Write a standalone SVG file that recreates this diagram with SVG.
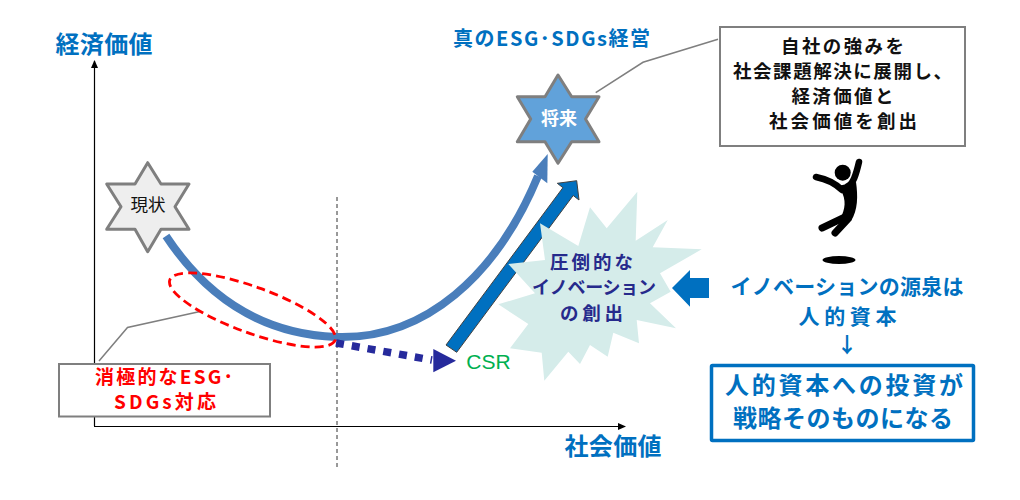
<svg xmlns="http://www.w3.org/2000/svg" width="1020" height="500" viewBox="0 0 1020 500">
<style>
text{font-family:"Noto Sans CJK JP","Liberation Sans",sans-serif;text-anchor:middle;font-weight:700}
.b{fill:#0070c0}
.n{fill:#262a8c}
.r{fill:#ff0000}
.k{fill:#111111}
.callout{fill:#fff;stroke:#7f7f7f;stroke-width:2}
.lead{fill:none;stroke:#7f7f7f;stroke-width:1.5}
</style>
<defs>
<marker id="ax" markerWidth="9" markerHeight="9" refX="7" refY="3.5" orient="auto" markerUnits="userSpaceOnUse"><path d="M0 0L8 3.5L0 7Z" fill="#000"/></marker>
</defs>
<g id="connectors">
<path d="M94.500 426V61" fill="none" stroke="#000" stroke-width="1.200" marker-end="url(#ax)"/>
<path d="M94 426.500H625" fill="none" stroke="#000" stroke-width="1.200" marker-end="url(#ax)"/>
<path d="M337 197V467" fill="none" stroke="#333" stroke-width="1" stroke-dasharray="4 3"/>
<path class="lead" d="M99 361L127.500 327.500L200 311.500"/>
<path class="lead" d="M595.700 92.700L643 62.300L718 39.300"/>
<path d="M166 236C205 295 260 334 336 337C425 340 497 275 538 176" fill="none" stroke="#4a7ebb" stroke-width="8"/>
<path d="M547.700 154L532.300 171.700L547.300 183.300Z" fill="#4a7ebb"/>
<path d="M336 343L432 360" fill="none" stroke="#262a9c" stroke-width="7.500" stroke-dasharray="8 8"/>
<path d="M456 360.700L433.300 349V372.300Z" fill="#262a9c"/>
<path d="M446 345L456.700 352.300L573.200 195.500L579 200L576.700 180.700L557.300 183.300L562.900 187.700Z" fill="#0070c0" stroke="#404040" stroke-width="1"/>
<path d="M672 288L690 270V278H709V298H690V306.700Z" fill="#0070c0"/>
<ellipse cx="252.500" cy="310" rx="88" ry="23" transform="rotate(20 252.500 310)" fill="none" stroke="#ff0000" stroke-width="2.800" stroke-dasharray="9 5"/>
</g>
<g id="axis-y-label"><text x="104" y="53" font-size="24" class="b" textLength="97" lengthAdjust="spacing">経済価値</text></g>
<g id="axis-x-label"><text x="613" y="455" font-size="24" class="b" textLength="97" lengthAdjust="spacing">社会価値</text></g>
<g id="star-now">
<path d="M147.700 162.700L161 184H189L175 206.700L189 229.300H161L147.700 251.700L135 229.300H106.700L121 206.700L106.700 184H135Z" fill="#eeeeee" stroke="#7f7f7f" stroke-width="3" stroke-linejoin="round"/>
<text x="148" y="211" font-size="17.500" class="k" style="font-weight:400">現状</text>
</g>
<g id="star-future">
<path d="M558 75L571.700 96.700H599L585.500 119L599 141.700H571.700L558 163.300L545 141.700H517.300L530.700 119L517.300 96.700H545Z" fill="#61a2da" stroke="#7f7f7f" stroke-width="3" stroke-linejoin="round"/>
<text x="559" y="124.500" font-size="18" fill="#fff">将来</text>
</g>
<g id="label-true"><text x="551.500" y="46" font-size="20" class="b" textLength="197" lengthAdjust="spacing">真のESG･SDGs経営</text></g>
<g id="callout-future">
<rect class="callout" x="720" y="27" width="245" height="119"/>
<text x="842.500" y="53" font-size="18.500" class="k" textLength="123" lengthAdjust="spacing">自社の強みを</text>
<text x="842.500" y="78" font-size="18.500" class="k" textLength="219" lengthAdjust="spacing">社会課題解決に展開し、</text>
<text x="842.500" y="103" font-size="18.500" class="k" textLength="102" lengthAdjust="spacing">経済価値と</text>
<text x="843" y="128" font-size="18.500" class="k" textLength="148" lengthAdjust="spacing">社会価値を創出</text>
</g>
<g id="callout-negative">
<rect class="callout" x="59" y="364" width="211" height="52.500"/>
<text x="164" y="384" font-size="19" class="r" textLength="138" lengthAdjust="spacing">消極的なESG･</text>
<text x="165" y="409" font-size="19" class="r" textLength="102" lengthAdjust="spacing">SDGs対応</text>
</g>
<g id="label-csr"><text x="488.500" y="369" font-size="21" style="font-family:'Liberation Sans',sans-serif;font-weight:400" fill="#00b050">CSR</text></g>
<g id="burst">
<path d="M637.300 191.700L635.700 240.700L667.700 220L652.700 247.300L701.700 249.300L660 273.300L670.700 291.700L650 303.300L676 328.300L636.700 320L639 343.300L613.300 332.700L607.700 356.700L590 345L580 364L568.300 351.700L544.300 380.700L541.700 352.700L510 348.300L528.300 324L498.300 304.300L535 293.300L508.300 264L545 260L540 223.300L578.300 246L590 207.300L606.700 228.300Z" fill="#d5ecea"/>
<text x="591.500" y="269" font-size="18.500" class="n" textLength="83" lengthAdjust="spacing">圧倒的な</text>
<text x="594" y="294" font-size="18" class="n" textLength="124" lengthAdjust="spacing">イノベーション</text>
<text x="591.500" y="320" font-size="18.500" class="n" textLength="63" lengthAdjust="spacing">の創出</text>
</g>
<g id="person">
<circle cx="842.700" cy="172.700" r="8" fill="#000"/>
<g fill="none" stroke="#000" stroke-linecap="round" stroke-linejoin="round">
<path d="M816 177C826 179 834 182 842 190" stroke-width="6.500"/>
<path d="M848 186C853 184 856 175 859 162" stroke-width="6.500"/>
<path d="M822 228L845 217" stroke-width="7"/>
<path d="M835 233L848 219" stroke-width="7"/>
</g>
<path d="M838 186L856 182C858 196 858 210 851 221L842 215C846 206 846 196 838 186Z" fill="#000"/>
<ellipse cx="839" cy="260" rx="16.500" ry="4" fill="#000"/>
</g>
<g id="label-source">
<text x="847" y="294" font-size="21" class="b" textLength="233" lengthAdjust="spacing">イノベーションの源泉は</text>
<text x="847.500" y="324" font-size="21" class="b" textLength="98" lengthAdjust="spacing">人的資本</text>
<text x="847" y="352" font-size="21" class="b">↓</text>
</g>
<g id="box-strategy">
<rect x="711.500" y="365.500" width="262" height="75" fill="#fff" stroke="#0070c0" stroke-width="3.500" rx="1"/>
<text x="844" y="393.500" font-size="24" class="b" textLength="238" lengthAdjust="spacing">人的資本への投資が</text>
<text x="843" y="427" font-size="24" class="b" textLength="220" lengthAdjust="spacing">戦略そのものになる</text>
</g>
</svg>
